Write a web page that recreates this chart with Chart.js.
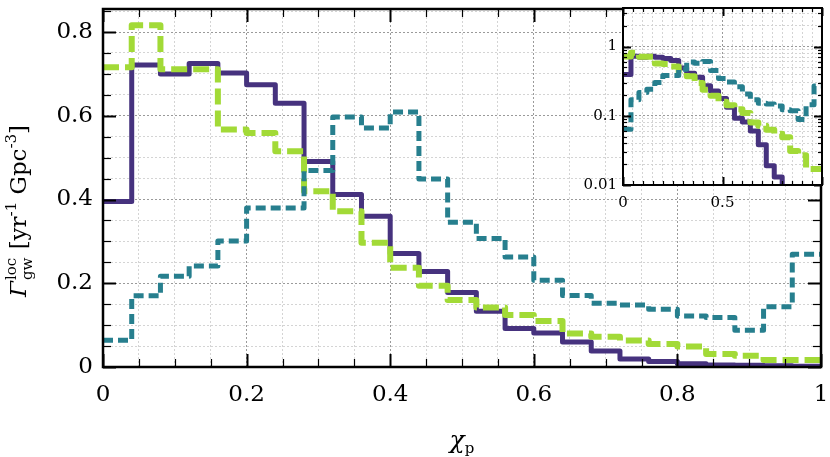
<!DOCTYPE html>
<html>
<head>
<meta charset="utf-8">
<script src="https://cdn.jsdelivr.net/npm/chart.js@4.4.1/dist/chart.umd.min.js"></script>
<style>
html, body { margin: 0; padding: 0; background: #fff; }
#wrap { position: relative; width: 830px; height: 457px; }
#main { position: absolute; left: 0; top: 0; }
#inset { position: absolute; left: 570px; top: 0; }
</style>
</head>
<body>
<div id="wrap">
  <canvas id="main" width="830" height="457"></canvas>
  <canvas id="inset" width="260" height="215"></canvas>
</div>
<script>
// bin edges of the chi_p histogram
const binEdges = [0, 0.04, 0.08, 0.12, 0.16, 0.2, 0.24, 0.28, 0.32, 0.36, 0.4, 0.44, 0.48,
  0.52, 0.56, 0.6, 0.64, 0.68, 0.72, 0.76, 0.8, 0.84, 0.88, 0.92, 0.96, 1];

// merger rate per bin
const purpleRate = [0.395, 0.721, 0.700, 0.725, 0.702, 0.674, 0.630, 0.491, 0.412, 0.360, 0.271, 0.228,
  0.178, 0.133, 0.092, 0.081, 0.060, 0.038, 0.019, 0.013, 0.008, 0.005, 0.004, 0.003, 0.002];
const greenRate = [0.716, 0.816, 0.711, 0.711, 0.567, 0.559, 0.515, 0.420, 0.372, 0.297, 0.237, 0.194,
  0.160, 0.142, 0.124, 0.110, 0.080, 0.072, 0.063, 0.055, 0.049, 0.031, 0.027, 0.017, 0.017];
const tealRate = [0.064, 0.170, 0.217, 0.241, 0.301, 0.380, 0.380, 0.469, 0.597, 0.571, 0.609, 0.449,
  0.346, 0.307, 0.263, 0.207, 0.171, 0.152, 0.148, 0.138, 0.122, 0.118, 0.088, 0.144, 0.269];

const xTickValues = [0, 0.2, 0.4, 0.6, 0.8, 1];
const xTickLabels = ['0', '0.2', '0.4', '0.6', '0.8', '1'];
const yTickValues = [0, 0.2, 0.4, 0.6, 0.8];
const yTickLabels = ['0', '0.2', '0.4', '0.6', '0.8'];
const insetXTickValues = [0, 0.5];
const insetXTickLabels = ['0', '0.5'];
const insetYTickValues = [0.01, 0.1, 1];
const insetYTickLabels = ['0.01', '0.1', '1'];

const PURPLE = '#46327e';
const GREEN = '#a2da37';
const TEAL = '#277f8e';
const FONT = "'DejaVu Serif', serif";

function steps(vals) {
  const pts = vals.map((v, i) => ({x: binEdges[i], y: v}));
  pts.push({x: binEdges[binEdges.length - 1], y: vals[vals.length - 1]});
  return pts;
}

function findLabel(v, values, labels) {
  for (let i = 0; i < values.length; i++) {
    if (Math.abs(v - values[i]) < 1e-9) return labels[i];
  }
  return '';
}
function isMajor(v, values) {
  return values.some(m => Math.abs(m - v) < 1e-9);
}

function linearTicks(lo, hi, step, majors) {
  const out = [];
  const n = Math.round((hi - lo) / step);
  for (let i = 0; i <= n; i++) {
    const v = Math.round((lo + i * step) * 1e6) / 1e6;
    out.push({value: v, major: isMajor(v, majors)});
  }
  return out;
}
function logTicks(lo, hi) {
  const out = [];
  for (let d = Math.floor(Math.log10(lo)); d <= Math.ceil(Math.log10(hi)); d++) {
    for (let k = 1; k <= 9; k++) {
      const v = parseFloat((k * Math.pow(10, d)).toPrecision(6));
      if (v >= lo - 1e-12 && v <= hi) out.push({value: v, major: k === 1});
    }
  }
  return out;
}

function datasets(w) {
  return [
    {data: steps(tealRate), borderColor: TEAL, borderWidth: w, borderDash: [10, 5], stepped: true,
      pointRadius: 0, fill: false, borderCapStyle: 'butt', borderJoinStyle: 'round'},
    {data: steps(greenRate), borderColor: GREEN, borderWidth: w + 1, borderDash: [16, 6], stepped: true,
      pointRadius: 0, fill: false, borderCapStyle: 'butt', borderJoinStyle: 'round'},
    {data: steps(purpleRate), borderColor: PURPLE, borderWidth: w, stepped: true,
      pointRadius: 0, fill: false, borderJoinStyle: 'round'}
  ];
}

function frameTicks(major, minor, frameW) {
  return {
    id: 'frameTicks',
    afterDatasetsDraw(chart) {
      const {ctx, chartArea: a} = chart;
      const x = chart.scales.x, y = chart.scales.y;
      ctx.save();
      ctx.strokeStyle = '#000';
      const seg = (x1, y1, x2, y2) => { ctx.beginPath(); ctx.moveTo(x1, y1); ctx.lineTo(x2, y2); ctx.stroke(); };
      x.ticks.forEach(t => {
        const px = Math.round(x.getPixelForValue(t.value)) + 0.5;
        const len = t.major ? major : minor;
        ctx.lineWidth = t.major ? 2 : 1.2;
        seg(px, a.bottom, px, a.bottom - len);
        seg(px, a.top, px, a.top + len);
      });
      y.ticks.forEach(t => {
        const py = Math.round(y.getPixelForValue(t.value)) + 0.5;
        if (py < a.top - 1 || py > a.bottom + 1) return;
        const len = t.major ? major : minor;
        ctx.lineWidth = t.major ? 2 : 1.2;
        seg(a.left, py, a.left + len, py);
        seg(a.right, py, a.right - len, py);
      });
      ctx.lineWidth = frameW;
      ctx.strokeRect(a.left, a.top, a.right - a.left, a.bottom - a.top);
      ctx.restore();
    }
  };
}

const whiteBox = {
  id: 'whiteBox',
  beforeDraw(chart) {
    const {ctx, chartArea: a} = chart;
    ctx.save();
    ctx.fillStyle = '#fff';
    ctx.fillRect(a.left, a.top, a.right - a.left, a.bottom - a.top);
    ctx.restore();
  }
};

const axisTitles = {
  id: 'axisTitles',
  afterDraw(chart) {
    const ctx = chart.ctx;
    ctx.save();
    ctx.fillStyle = '#000';
    ctx.textBaseline = 'alphabetic';
    // y title, rotated
    const big = '23px ' + FONT, bigIt = 'italic 23px ' + FONT, small = '15px ' + FONT;
    const parts = [
      {t: '\u0393', f: bigIt, dy: 0},
      {t: 'loc', f: small, dy: -10, stackWith: 'gw', stackDy: 6},
      {t: ' [yr', f: big, dy: 0},
      {t: '-1', f: small, dy: -10},
      {t: ' Gpc', f: big, dy: 0},
      {t: '-3', f: small, dy: -10},
      {t: ']', f: big, dy: 0}
    ];
    let total = 0;
    parts.forEach(p => {
      ctx.font = p.f;
      let w = ctx.measureText(p.t).width;
      if (p.stackWith) w = Math.max(w, ctx.measureText(p.stackWith).width);
      p.w = w + (p.stackWith ? 2 : 0);
      total += p.w;
    });
    ctx.translate(26, 211);
    ctx.rotate(-Math.PI / 2);
    let cx = -total / 2;
    parts.forEach(p => {
      ctx.font = p.f;
      ctx.fillText(p.t, cx + (p.stackWith ? 1 : 0), p.dy);
      if (p.stackWith) ctx.fillText(p.stackWith, cx + 1, p.stackDy);
      cx += p.w;
    });
    ctx.restore();

    // x title
    ctx.save();
    ctx.fillStyle = '#000';
    ctx.font = 'italic 25px ' + FONT;
    const wc = ctx.measureText('\u03c7').width;
    ctx.font = '15px ' + FONT;
    const wp = ctx.measureText('p').width;
    const x0 = 462 - (wc + wp) / 2;
    ctx.font = 'italic 25px ' + FONT;
    ctx.fillText('\u03c7', x0, 448);
    ctx.font = '15px ' + FONT;
    ctx.fillText('p', x0 + wc, 453);
    ctx.restore();
  }
};

function fitX(h) {
  return s => { s.height = h; s.paddingLeft = 0; s.paddingRight = 0; s.paddingTop = 0; s.paddingBottom = 0; };
}
function fitY(w) {
  return s => { s.width = w; s.paddingLeft = 0; s.paddingRight = 0; s.paddingTop = 0; s.paddingBottom = 0; };
}

function gridOpts() {
  return {
    drawTicks: false,
    color: c => (c.tick && c.tick.major) ? '#9a9a9a' : '#d4d4d4',
    lineWidth: 1
  };
}

new Chart(document.getElementById('main'), {
  type: 'line',
  data: {datasets: datasets(5)},
  options: {
    responsive: false,
    animation: false,
    layout: {padding: {left: 9, right: 9, top: 9, bottom: 0}},
    plugins: {legend: {display: false}, tooltip: {enabled: false}},
    scales: {
      x: {
        type: 'linear', min: 0, max: 1,
        afterBuildTicks: s => { s.ticks = linearTicks(0, 1, 0.05, xTickValues); },
        afterFit: fitX(90),
        ticks: {
          autoSkip: false, maxRotation: 0, padding: 14, color: '#000',
          font: {family: FONT, size: 23},
          callback: v => findLabel(v, xTickValues, xTickLabels)
        },
        grid: gridOpts(),
        border: {display: false, dash: [2, 2]}
      },
      y: {
        type: 'linear', min: 0, max: 0.855,
        afterBuildTicks: s => { s.ticks = linearTicks(0, 0.85, 0.05, yTickValues); },
        afterFit: fitY(94),
        ticks: {
          autoSkip: false, padding: 10, color: '#000',
          font: {family: FONT, size: 23},
          callback: v => findLabel(v, yTickValues, yTickLabels)
        },
        grid: gridOpts(),
        border: {display: false, dash: [2, 2]}
      }
    }
  },
  plugins: [frameTicks(13, 8, 2.5), axisTitles]
});

new Chart(document.getElementById('inset'), {
  type: 'line',
  data: {datasets: datasets(5)},
  options: {
    responsive: false,
    animation: false,
    layout: {padding: {left: 5, right: 8, top: 8, bottom: 0}},
    plugins: {legend: {display: false}, tooltip: {enabled: false}},
    scales: {
      x: {
        type: 'linear', min: 0, max: 1,
        afterBuildTicks: s => { s.ticks = linearTicks(0, 1, 0.05, [0, 0.5, 1]); },
        afterFit: fitX(30),
        ticks: {
          autoSkip: false, maxRotation: 0, padding: 9, color: '#000',
          font: {family: FONT, size: 15},
          callback: v => findLabel(v, insetXTickValues, insetXTickLabels)
        },
        grid: gridOpts(),
        border: {display: false, dash: [2, 2]}
      },
      y: {
        type: 'logarithmic', min: 0.01, max: 3.6,
        afterBuildTicks: s => { s.ticks = logTicks(0.01, 3.6); },
        afterFit: fitY(48),
        ticks: {
          autoSkip: false, padding: 6, color: '#000',
          font: {family: FONT, size: 15},
          callback: v => findLabel(v, insetYTickValues, insetYTickLabels)
        },
        grid: gridOpts(),
        border: {display: false, dash: [2, 2]}
      }
    }
  },
  plugins: [whiteBox, frameTicks(8, 4, 2)]
});
</script>
</body>
</html>
